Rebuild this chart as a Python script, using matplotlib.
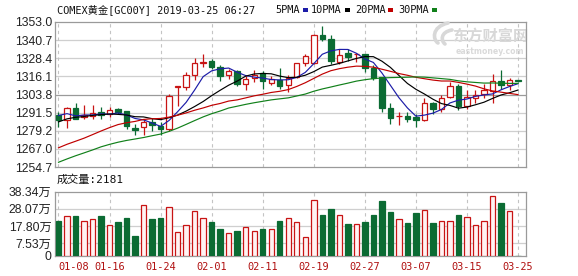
import matplotlib
matplotlib.use("Agg")
import matplotlib.pyplot as plt
from matplotlib.patches import Rectangle, PathPatch
from matplotlib.path import Path
import numpy as np

# ---------------- data ----------------
dates = [
    "01-08", "01-09", "01-10", "01-11", "01-14", "01-15", "01-16", "01-17", "01-18",
    "01-21", "01-22", "01-23", "01-24", "01-25", "01-28", "01-29", "01-30", "01-31",
    "02-01", "02-04", "02-05", "02-06", "02-07", "02-08", "02-11", "02-12", "02-13",
    "02-14", "02-15", "02-18", "02-19", "02-20", "02-21", "02-22", "02-25", "02-26",
    "02-27", "02-28", "03-01", "03-04", "03-05", "03-06", "03-07", "03-08", "03-11",
    "03-12", "03-13", "03-14", "03-15", "03-18", "03-19", "03-20", "03-21", "03-22",
    "03-25",
]

open_ = [1290.2, 1286.8, 1295.0, 1288.6, 1289.1, 1292.3, 1290.9, 1293.8, 1292.5, 1281.1,
         1281.5, 1285.0, 1282.8, 1280.4, 1308.8, 1308.6, 1316.9, 1325.5, 1326.4, 1322.3,
         1317.2, 1319.6, 1311.3, 1314.7, 1318.1, 1311.9, 1314.0, 1310.5, 1315.9, 1325.1,
         1325.3, 1344.1, 1341.8, 1325.9, 1331.8, 1331.0, 1331.0, 1322.0, 1315.7, 1294.5,
         1289.1, 1289.2, 1288.4, 1286.7, 1298.4, 1294.3, 1302.4, 1309.4, 1296.0, 1301.8,
         1304.5, 1306.4, 1312.8, 1310.1, 1313.5]

close = [1286.7, 1294.7, 1287.5, 1289.7, 1291.4, 1290.1, 1293.6, 1292.0, 1282.6, 1279.7,
         1285.2, 1283.0, 1280.7, 1302.8, 1309.3, 1316.9, 1324.9, 1325.9, 1322.5, 1316.1,
         1319.5, 1310.7, 1314.5, 1317.4, 1312.8, 1314.5, 1309.4, 1315.2, 1325.3, 1329.8,
         1344.1, 1341.3, 1326.6, 1330.3, 1329.6, 1331.3, 1322.0, 1314.7, 1294.8, 1287.7,
         1289.4, 1287.2, 1286.7, 1298.4, 1294.3, 1301.8, 1309.4, 1296.2, 1302.2, 1303.3,
         1306.7, 1312.8, 1310.1, 1313.5, 1312.8]

high = [1292.0, 1295.4, 1298.4, 1296.5, 1297.0, 1295.4, 1295.4, 1295.0, 1292.8, 1283.6,
        1287.2, 1287.7, 1285.2, 1303.9, 1309.6, 1319.2, 1328.6, 1331.2, 1328.2, 1323.7,
        1320.8, 1320.3, 1316.2, 1320.6, 1319.6, 1316.2, 1321.7, 1317.4, 1325.4, 1331.5,
        1344.7, 1350.0, 1344.1, 1334.6, 1334.6, 1331.8, 1331.6, 1323.7, 1315.8, 1298.0,
        1292.1, 1291.8, 1290.4, 1301.3, 1298.8, 1303.3, 1312.4, 1311.3, 1306.7, 1306.7,
        1311.3, 1317.6, 1320.3, 1314.7, 1313.9]

low = [1281.6, 1281.4, 1287.0, 1287.5, 1287.5, 1287.0, 1288.7, 1290.9, 1280.7, 1276.2,
       1276.2, 1279.2, 1276.2, 1278.9, 1296.0, 1306.7, 1313.5, 1322.5, 1321.4, 1313.3,
       1314.2, 1309.4, 1306.7, 1312.4, 1307.9, 1310.1, 1307.9, 1305.7, 1314.7, 1323.0,
       1324.8, 1340.0, 1324.2, 1324.6, 1326.4, 1325.9, 1318.9, 1313.8, 1292.0, 1284.1,
       1283.0, 1285.0, 1281.8, 1285.7, 1290.9, 1292.0, 1301.8, 1293.1, 1294.3, 1298.1,
       1301.8, 1298.1, 1307.9, 1307.2, 1312.5]

# volume in units of 10,000 contracts (万)
volume = [21.1, 23.5, 23.5, 20.6, 21.7, 23.5, 18.2, 20.0, 22.5, 11.9,
          30.4, 21.7, 22.5, 29.4, 14.0, 18.2, 26.5, 22.5, 20.0, 15.8,
          13.4, 14.6, 17.0, 14.6, 15.8, 15.8, 21.1, 22.3, 20.0, 11.1,
          33.0, 24.1, 27.9, 24.1, 18.8, 18.8, 20.0, 24.1, 32.6, 26.1,
          21.7, 19.4, 25.3, 27.1, 19.4, 20.6, 21.1, 24.1, 22.9, 18.2,
          21.1, 35.4, 31.8, 26.5, 0.2181]

# closes of the 29 sessions before 01-08, needed for the moving averages
history_close = [1227.0, 1223.5, 1231.0, 1231.5, 1226.5, 1243.5, 1248.0, 1246.5, 1250.5, 1255.0,
                 1247.0, 1246.5, 1248.0, 1243.0, 1241.0, 1247.5, 1251.0, 1257.5, 1262.0, 1258.0,
                 1274.0, 1277.0, 1284.5, 1283.5, 1285.5, 1288.5, 1295.0, 1287.0, 1291.0]

price_ticks = [1254.7, 1267.0, 1279.2, 1291.5, 1303.8, 1316.1, 1328.4, 1340.7, 1353.0]
volume_ticks = [0, 7.53, 17.80, 28.07, 38.34]
ma_periods = [5, 10, 20, 30]

title = "COMEX黄金[GC00Y] 2019-03-25 06:27"

# ---------------- style ----------------
RED = "#c81414"
GREEN = "#0b6b33"
MA_COLORS = ["#1c1ca8", "#000000", "#c00000", "#11801a"]
GRID = "#cfcfcf"
FRAME = "#9a9a9a"
MONO = ["DejaVu Sans Mono", "Noto Sans CJK SC"]
SANS = ["Liberation Sans", "Noto Sans CJK SC"]

W, H = 578, 276
fig = plt.figure(figsize=(W / 100, H / 100), dpi=100)
fig.patch.set_facecolor("white")


def fx(x):
    return x / W


def fy(y):
    return 1 - y / H


left_px, right_px = 55, 525.7
ax = fig.add_axes([fx(left_px), fy(167), (right_px - left_px) / W, (167 - 22) / H])
axv = fig.add_axes([fx(left_px), fy(256), (right_px - left_px) / W, (256 - 191.5) / H])

n = len(close)
x = np.arange(n)
o = np.array(open_)
c = np.array(close)
hi = np.array(high)
lo = np.array(low)
up = c >= o

xlim = (-0.41, n - 1 + 0.9)
label_idx = list(range(0, n, 6))

# ---------------- price panel ----------------
ax.set_xlim(*xlim)
ax.set_ylim(price_ticks[0], price_ticks[-1])
ax.set_yticks(price_ticks)
ax.set_yticklabels([f"{v:.1f}" for v in price_ticks])
ax.set_xticks([])
for v in price_ticks[1:-1]:
    mid = v == price_ticks[len(price_ticks) // 2]
    ax.axhline(v, color="#9a9a9a" if mid else GRID, lw=0.9, zorder=0.5)
for i in label_idx:
    ax.axvline(i, color="#c4c4c4", lw=0.8, ls=(0, (3, 3)), zorder=0.5)

# wicks
ax.vlines(x, lo, hi, colors=np.where(up, RED, GREEN), lw=0.9, zorder=2)
# bodies
body_w = 0.64
ax.bar(x[up], (c - o)[up], bottom=o[up], width=body_w, facecolor="white",
       edgecolor=RED, lw=0.9, zorder=3)
ax.bar(x[~up], (o - c)[~up], bottom=c[~up], width=body_w, facecolor=GREEN,
       edgecolor=GREEN, lw=0.9, zorder=3)

# moving averages
full = np.concatenate([np.array(history_close), c])
off = len(history_close)
for p, col in zip(ma_periods, MA_COLORS):
    ma = np.array([full[off + i - p + 1: off + i + 1].mean() for i in range(n)])
    ax.plot(x, ma, color=col, lw=0.85, zorder=4)

for s in ax.spines.values():
    s.set_color(FRAME)
    s.set_linewidth(0.9)
ax.tick_params(axis="y", length=0, pad=1.8, labelsize=8.8, labelcolor="#222222")
for t in ax.get_yticklabels():
    t.set_family(SANS)

# watermark: swoosh logo and site name
WM = "#d8d8d8"
for verts in ([(448, 23), (431, 27), (433, 40), (438, 43)],
              [(452, 30), (440, 32), (441, 41), (445, 44)]):
    pv = [(fx(px), fy(py)) for px, py in verts]
    fig.patches.append(PathPatch(Path(pv, [Path.MOVETO, Path.CURVE4, Path.CURVE4, Path.CURVE4]),
                                 transform=fig.transFigure, facecolor="none",
                                 edgecolor=WM, lw=2.6, capstyle="round"))
ax.text(0.925, 0.905, "东方财富网", transform=ax.transAxes, ha="center", va="center",
        family="Noto Sans CJK SC", weight="bold", size=11, color=WM, zorder=0.6)
ax.text(0.925, 0.8, "eastmoney.com", transform=ax.transAxes, ha="center", va="center",
        family="DejaVu Sans", weight="bold", size=5.6, color="#dadada", zorder=0.6)

# ---------------- volume panel ----------------
axv.set_xlim(*xlim)
axv.set_ylim(volume_ticks[0], volume_ticks[-1])
axv.set_yticks(volume_ticks)
axv.set_yticklabels(["0" if v == 0 else f"{v:.2f}万" for v in volume_ticks])
for v in volume_ticks[1:-1]:
    axv.axhline(v, color=GRID, lw=0.9, zorder=0.5)
for i in label_idx:
    axv.axvline(i, color="#c4c4c4", lw=0.8, ls=(0, (3, 3)), zorder=0.5)

vol = np.array(volume)
axv.bar(x[up], vol[up], width=body_w, facecolor="#fff3f3", edgecolor=RED, lw=0.9, zorder=3)
axv.bar(x[~up], vol[~up], width=body_w, facecolor=GREEN, edgecolor=GREEN, lw=0.9, zorder=3)

for s in axv.spines.values():
    s.set_color(FRAME)
    s.set_linewidth(0.9)
axv.tick_params(axis="y", length=0, pad=2.4, labelsize=8.8, labelcolor="#222222")
for t in axv.get_yticklabels():
    t.set_family(SANS)
axv.set_xticks([])
for k, i in enumerate(label_idx):
    axv.text(i, -0.17, dates[i], transform=axv.get_xaxis_transform(),
             ha="left" if k == 0 else "center", va="center",
             family=MONO, size=7.4, color="#b01010")

# ---------------- header texts ----------------
fig.text(fx(57), fy(10), title, family=MONO, size=7.4, color="#111111", va="center")

legend_items = [("5PMA", 275, 303), ("10PMA", 311, 345), ("20PMA", 355, 388), ("30PMA", 398, 432)]
for (lab, tx, sx), col in zip(legend_items, MA_COLORS):
    fig.text(fx(tx), fy(10), lab, family=MONO, size=7.4, color="#111111", va="center")
    fig.patches.append(Rectangle((fx(sx), fy(11.5)), 5 / W, 3 / H, transform=fig.transFigure,
                                 facecolor=col, edgecolor="none"))

fig.text(fx(57), fy(180), f"成交量:{volume[-1] * 10000:.0f}", family=MONO, size=8,
         color="#111111", va="center")

fig.savefig("out.png", dpi=100, facecolor="white")
